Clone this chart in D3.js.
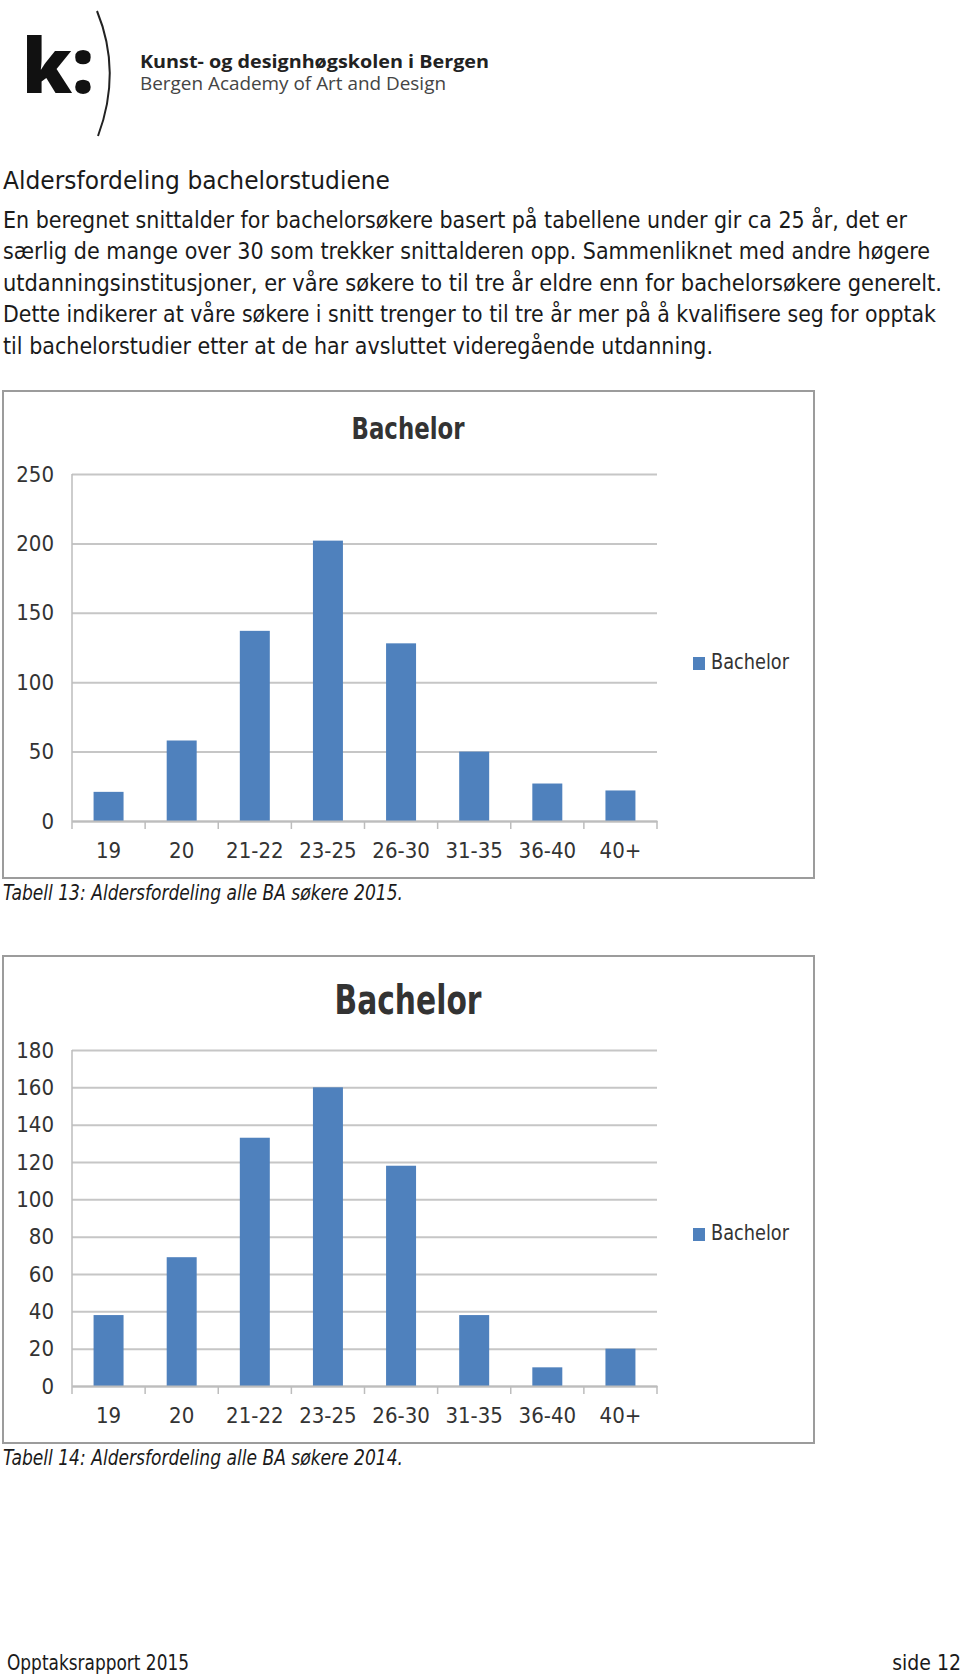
<!DOCTYPE html>
<html><head><meta charset="utf-8">
<script src="https://cdn.jsdelivr.net/npm/d3@7"></script>
<style>
html,body{margin:0;padding:0;background:#fff;}
svg{display:block;}
.body{font-family:"Liberation Sans Narrow","DejaVu Sans Condensed","DejaVu Sans",sans-serif;font-stretch:condensed;fill:#1a1a1a;}
.ch{font-family:"Liberation Sans Narrow","DejaVu Sans Condensed",sans-serif;font-stretch:condensed;fill:#333;}
</style></head>
<body>
<svg id="page" width="960" height="1678"></svg>
<script>
// ---- data ----
const categories = ["19","20","21-22","23-25","26-30","31-35","36-40","40+"];
const values2015 = [21, 58, 137, 202, 128, 50, 27, 22];
const values2014 = [38, 69, 133, 160, 118, 38, 10, 20];
const ticks2015 = [0, 50, 100, 150, 200, 250];
const ticks2014 = [0, 20, 40, 60, 80, 100, 120, 140, 160, 180];
const seriesName = "Bachelor";
const chartTitle = "Bachelor";
const heading = "Aldersfordeling bachelorstudiene";
const paragraph = [
  "En beregnet snittalder for bachelorsøkere basert på tabellene under gir ca 25 år, det er",
  "særlig de mange over 30 som trekker snittalderen opp. Sammenliknet med andre høgere",
  "utdanningsinstitusjoner, er våre søkere to til tre år eldre enn for bachelorsøkere generelt.",
  "Dette indikerer at våre søkere i snitt trenger to til tre år mer på å kvalifisere seg for opptak",
  "til bachelorstudier etter at de har avsluttet videregående utdanning."
];
const captions = ["Tabell 13: Aldersfordeling alle BA søkere 2015.", "Tabell 14: Aldersfordeling alle BA søkere 2014."];

const svg = d3.select("#page");
const BAR = "#4f81bd";

// ---- logo ----
svg.append("text").attr("x", 22).attr("y", 93)
  .attr("font-family", "Open Sans, sans-serif").attr("font-weight", 800)
  .attr("font-size", 76).attr("fill", "#111").text("k:");
const p = d3.path();
p.moveTo(97, 11);
p.quadraticCurveTo(122, 72, 98, 136);
svg.append("path").attr("d", p.toString()).attr("fill", "none")
  .attr("stroke", "#222").attr("stroke-width", 2);
svg.append("text").attr("x", 140).attr("y", 68)
  .attr("font-family", "Open Sans, sans-serif").attr("font-weight", 700)
  .attr("font-size", 18).attr("fill", "#222")
  .attr("textLength", 349).attr("lengthAdjust", "spacingAndGlyphs")
  .text("Kunst- og designhøgskolen i Bergen");
svg.append("text").attr("x", 140).attr("y", 90)
  .attr("font-family", "Open Sans, sans-serif").attr("font-weight", 400)
  .attr("font-size", 18).attr("fill", "#444")
  .attr("textLength", 306).attr("lengthAdjust", "spacingAndGlyphs")
  .text("Bergen Academy of Art and Design");

// ---- heading and paragraph ----
svg.append("text").attr("class", "body").attr("x", 3).attr("y", 189)
  .attr("font-size", 25).attr("font-weight", 500)
  .attr("textLength", 387).attr("lengthAdjust", "spacingAndGlyphs")
  .text(heading);
const lineEnds = [907, 930, 942, 936, 713];
paragraph.forEach((t, i) => {
  svg.append("text").attr("class", "body").attr("x", 3).attr("y", 227.5 + i * 31.5)
    .attr("font-size", 23)
    .attr("textLength", lineEnds[i] - 3).attr("lengthAdjust", "spacingAndGlyphs")
    .text(t);
});

// ---- charts ----
function drawChart(cfg) {
  const g = svg.append("g");
  // frame
  g.append("rect").attr("x", cfg.frame[0]).attr("y", cfg.frame[1])
    .attr("width", cfg.frame[2]).attr("height", cfg.frame[3])
    .attr("fill", "#fff").attr("stroke", "#9c9c9c").attr("stroke-width", 2);
  // title
  g.append("text").attr("class", "ch").attr("x", 408).attr("y", cfg.titleY)
    .attr("text-anchor", "middle").attr("font-weight", 700)
    .attr("font-size", cfg.titleSize).attr("fill", "#111")
    .attr("textLength", cfg.titleW).attr("lengthAdjust", "spacingAndGlyphs")
    .text(chartTitle);

  const x = d3.scaleBand().domain(categories).range([72, 657]).padding(0);
  const y = d3.scaleLinear().domain([0, cfg.ticks[cfg.ticks.length - 1]]).range([cfg.y0, cfg.yTop]);

  // gridlines + y labels
  const ya = g.append("g").attr("transform", "translate(72,0)")
    .call(d3.axisLeft(y).tickValues(cfg.ticks).tickSize(-(657 - 72)).tickPadding(18));
  ya.select(".domain").remove();
  ya.selectAll(".tick line").attr("stroke", "#c6c6c6").attr("stroke-width", 2);
  ya.selectAll(".tick text").attr("class", "ch").attr("font-size", 22).attr("fill", "#444");

  // y axis line
  g.append("line").attr("x1", 72).attr("x2", 72).attr("y1", y.range()[1]).attr("y2", y(0))
    .attr("stroke", "#bdbdbd").attr("stroke-width", 1.5);

  // bars
  const bw = x.bandwidth() * 0.41;
  g.selectAll("rect.bar").data(cfg.values).join("rect").attr("class", "bar")
    .attr("x", (d, i) => x(categories[i]) + (x.bandwidth() - bw) / 2)
    .attr("width", bw)
    .attr("y", d => y(d)).attr("height", d => y(0) - y(d))
    .attr("fill", BAR);

  // x axis
  const xa = g.append("g").attr("transform", `translate(0,${y(0)})`)
    .call(d3.axisBottom(x).tickSize(0).tickPadding(cfg.xPad));
  xa.select(".domain").attr("stroke", "#bdbdbd").attr("stroke-width", 2);
  xa.selectAll(".tick text").attr("class", "ch").attr("font-size", 22).attr("fill", "#444");
  // category boundary tick marks
  const bounds = categories.map(c => x(c)).concat([x.range()[1]]);
  g.selectAll("line.bt").data(bounds).join("line").attr("class", "bt")
    .attr("x1", d => d).attr("x2", d => d).attr("y1", y(0)).attr("y2", y(0) + 8)
    .attr("stroke", "#bdbdbd").attr("stroke-width", 1.5);

  // legend
  g.append("rect").attr("x", 693).attr("y", cfg.legY - 6).attr("width", 12).attr("height", 13).attr("fill", BAR);
  g.append("text").attr("class", "ch").attr("x", 711).attr("y", cfg.legY)
    .attr("dominant-baseline", "middle").attr("font-size", 22).attr("fill", "#444")
    .attr("textLength", 78).attr("lengthAdjust", "spacingAndGlyphs")
    .text(seriesName);

  // caption
  svg.append("text").attr("class", "body").attr("x", 3).attr("y", cfg.capY)
    .attr("font-size", 21).attr("font-style", "italic")
    .attr("textLength", 400).attr("lengthAdjust", "spacingAndGlyphs")
    .text(cfg.caption);
}

drawChart({frame: [3, 391, 811, 487], titleY: 439, titleSize: 31, titleW: 113,
  ticks: ticks2015, values: values2015, y0: 821, yTop: 474, xPad: 21, legY: 663,
  capY: 900, caption: captions[0]});
drawChart({frame: [3, 956, 811, 487], titleY: 1014, titleSize: 40, titleW: 147,
  ticks: ticks2014, values: values2014, y0: 1386, yTop: 1050, xPad: 21, legY: 1234,
  capY: 1465, caption: captions[1]});

// ---- footer ----
svg.append("text").attr("class", "body").attr("x", 7).attr("y", 1670)
  .attr("font-size", 21).attr("textLength", 182).attr("lengthAdjust", "spacingAndGlyphs")
  .text("Opptaksrapport 2015");
svg.append("text").attr("class", "body").attr("x", 961).attr("y", 1670)
  .attr("text-anchor", "end").attr("font-size", 21)
  .text("side 12");
</script>
</body></html>
